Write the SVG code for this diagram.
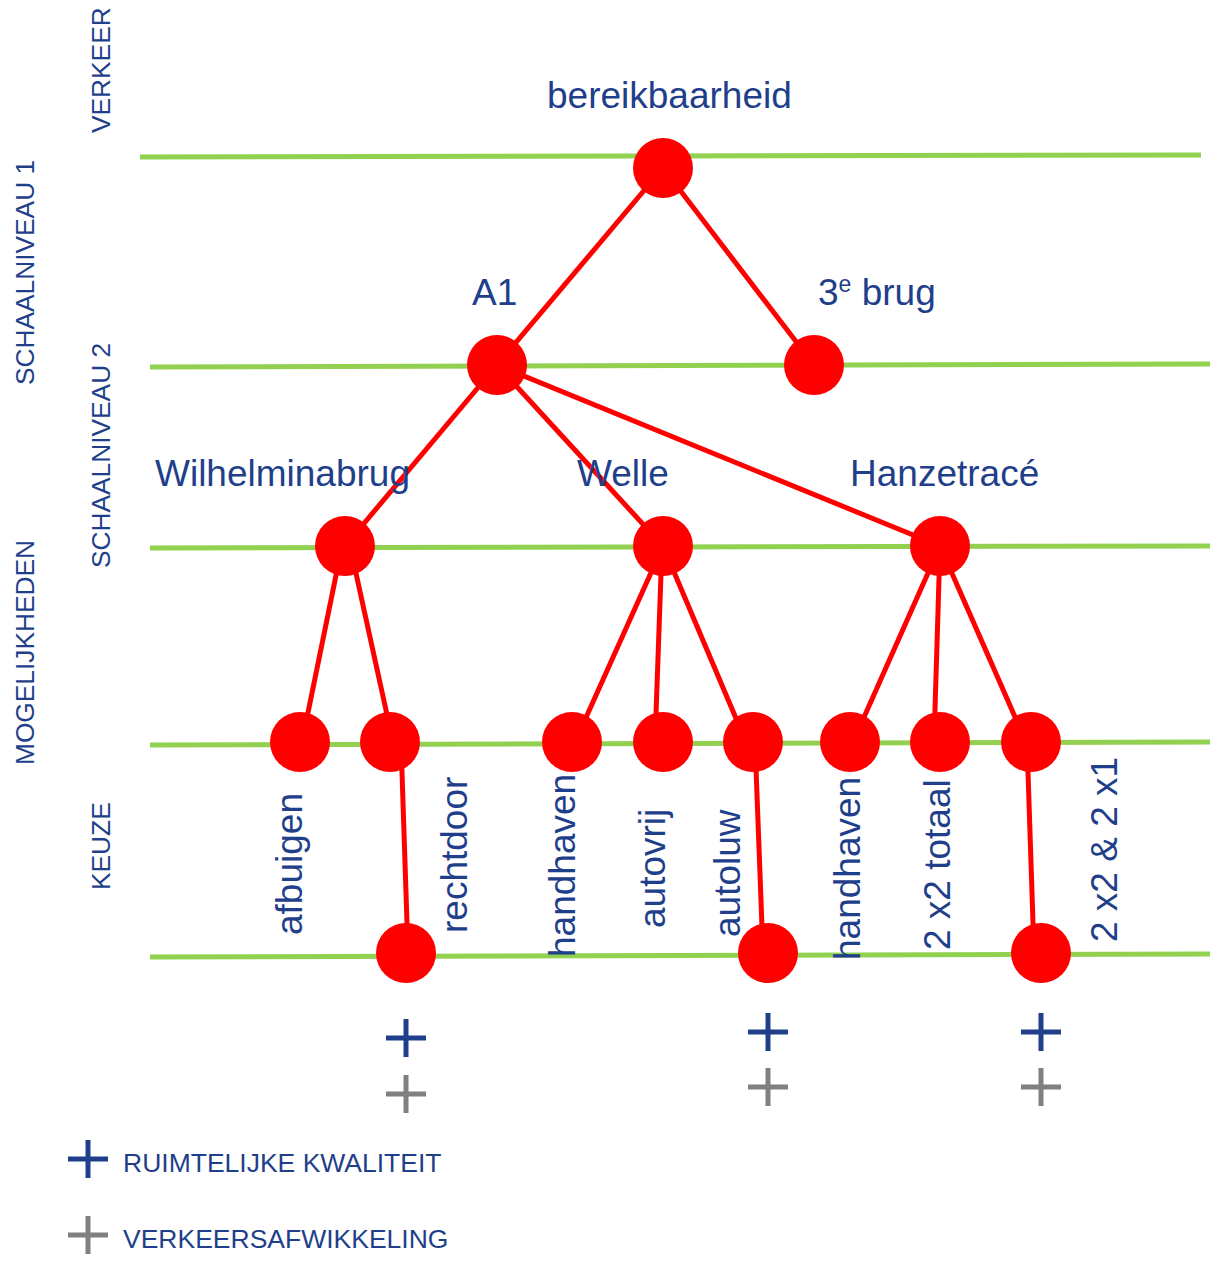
<svg xmlns="http://www.w3.org/2000/svg" width="1210" height="1264" viewBox="0 0 1210 1264">
<style>
text{font-family:"Liberation Sans",Arial,sans-serif;fill:#1F3F8A}
.lbl{font-size:37px}
.side{font-size:26.3px}
.leg{font-size:26.5px}
.grid line{stroke:#92D050;stroke-width:5}
.edges line{stroke:#FF0000;stroke-width:5}
.node circle{fill:#FF0000}
.pb{stroke:#1F3F8A;stroke-width:5;fill:none}
.pg{stroke:#808080;stroke-width:5;fill:none}
</style>
<defs>
<path id="plus" d="M-20,0H20M0,-19V19"/>
</defs>
<g id="grid" class="grid">
<line x1="140" y1="157" x2="1201" y2="155"/>
<line x1="150" y1="367" x2="1210" y2="364"/>
<line x1="150" y1="548" x2="1210" y2="546"/>
<line x1="150" y1="745" x2="1210" y2="742"/>
<line x1="150" y1="957" x2="1210" y2="954"/>
</g>
<g id="side-labels" class="side">
<text transform="translate(110,133) rotate(-90)">VERKEER</text>
<text transform="translate(34,385) rotate(-90)">SCHAALNIVEAU 1</text>
<text transform="translate(110,568) rotate(-90)">SCHAALNIVEAU 2</text>
<text transform="translate(34,765) rotate(-90)">MOGELIJKHEDEN</text>
<text transform="translate(110,890) rotate(-90)">KEUZE</text>
</g>
<g id="connectors" class="edges">
<line x1="663" y1="168" x2="497" y2="365"/>
<line x1="663" y1="168" x2="814" y2="365"/>
<line x1="497" y1="365" x2="345" y2="546"/>
<line x1="497" y1="365" x2="663" y2="546"/>
<line x1="497" y1="365" x2="940" y2="546"/>
<line x1="342" y1="546" x2="302" y2="742"/>
<line x1="350" y1="546" x2="393" y2="742"/>
<line x1="663" y1="546" x2="575" y2="742"/>
<line x1="662" y1="546" x2="655" y2="742"/>
<line x1="663" y1="546" x2="746" y2="742"/>
<line x1="940" y1="546" x2="853" y2="742"/>
<line x1="940" y1="546" x2="934" y2="742"/>
<line x1="940" y1="546" x2="1026" y2="742"/>
<line x1="401" y1="742" x2="408" y2="953"/>
<line x1="755" y1="742" x2="763" y2="953"/>
<line x1="1027" y1="742" x2="1034" y2="953"/>
</g>
<g id="n-bereikbaarheid" class="node"><circle cx="663" cy="168" r="30"/><text class="lbl" x="547" y="108">bereikbaarheid</text></g>
<g id="n-a1" class="node"><circle cx="497" cy="365" r="30"/><text class="lbl" x="472" y="305">A1</text></g>
<g id="n-3ebrug" class="node"><circle cx="814" cy="365" r="30"/><text class="lbl" x="818" y="305">3<tspan font-size="23" dy="-13">e</tspan><tspan dy="13"> brug</tspan></text></g>
<g id="n-wilhelminabrug" class="node"><circle cx="345" cy="546" r="30"/><text class="lbl" x="155" y="486">Wilhelminabrug</text></g>
<g id="n-welle" class="node"><circle cx="663" cy="546" r="30"/><text class="lbl" x="577" y="486">Welle</text></g>
<g id="n-hanzetrace" class="node"><circle cx="940" cy="546" r="30"/><text class="lbl" x="850" y="486">Hanzetracé</text></g>
<g id="n-afbuigen" class="node"><circle cx="300" cy="742" r="30"/><text class="lbl" transform="translate(302,935) rotate(-90)">afbuigen</text></g>
<g id="n-rechtdoor" class="node"><circle cx="390" cy="742" r="30"/><text class="lbl" transform="translate(467,933) rotate(-90)">rechtdoor</text></g>
<g id="n-welle-handhaven" class="node"><circle cx="572" cy="742" r="30"/><text class="lbl" transform="translate(575,957) rotate(-90)">handhaven</text></g>
<g id="n-autovrij" class="node"><circle cx="663" cy="742" r="30"/><text class="lbl" transform="translate(665,928) rotate(-90)">autovrij</text></g>
<g id="n-autoluw" class="node"><circle cx="753" cy="742" r="30"/><text class="lbl" transform="translate(740,937) rotate(-90)">autoluw</text></g>
<g id="n-hanze-handhaven" class="node"><circle cx="850" cy="742" r="30"/><text class="lbl" transform="translate(860,960) rotate(-90)">handhaven</text></g>
<g id="n-2x2totaal" class="node"><circle cx="940" cy="742" r="30"/><text class="lbl" transform="translate(950,950) rotate(-90)">2 x2 totaal</text></g>
<g id="n-2x2-2x1" class="node"><circle cx="1031" cy="742" r="30"/><text class="lbl" transform="translate(1117,942) rotate(-90)">2 x2 &amp; 2 x1</text></g>
<g id="n-rechtdoor-end" class="node"><circle cx="406" cy="953" r="30"/></g>
<g id="n-autoluw-end" class="node"><circle cx="768" cy="953" r="30"/></g>
<g id="n-2x2-2x1-end" class="node"><circle cx="1041" cy="953" r="30"/></g>
<g id="scores">
<use href="#plus" class="pb" x="406" y="1038"/>
<use href="#plus" class="pg" x="406" y="1094"/>
<use href="#plus" class="pb" x="768" y="1032"/>
<use href="#plus" class="pg" x="768" y="1087"/>
<use href="#plus" class="pb" x="1041" y="1032"/>
<use href="#plus" class="pg" x="1041" y="1087"/>
</g>
<g id="legend">
<use href="#plus" class="pb" x="88" y="1159"/>
<text class="leg" x="123" y="1172">RUIMTELIJKE KWALITEIT</text>
<use href="#plus" class="pg" x="88" y="1235"/>
<text class="leg" x="123" y="1248">VERKEERSAFWIKKELING</text>
</g>
</svg>
